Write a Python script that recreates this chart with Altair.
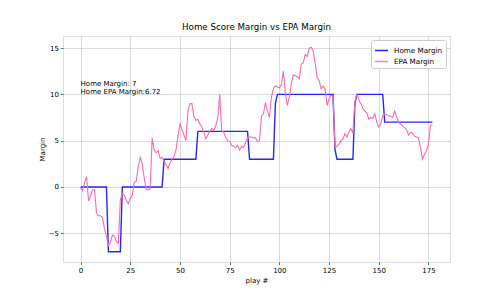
import altair as alt
import pandas as pd

# Home score margin (corner points of the step line)
home_play = [0, 13, 14, 20, 21, 41, 42, 58, 59, 84, 85, 97, 98, 99, 127, 128, 129, 137, 138, 139, 152, 153, 177]
home_margin = [0, 0, -7, -7, 0, 0, 3, 3, 6, 6, 3, 3, 9, 10, 10, 4, 3, 3, 9, 10, 10, 7, 7]

# EPA margin
epa_play = list(range(0, 178))
epa_margin = [
    -0.1, -0.4, 0.5, 1.1, -1.5, -1.0, -0.3, -0.3, -2.8, -3.1,
    -3.1, -3.3, -4.5, -5.3, -6.3, -6.0, -5.2, -5.3, -5.9, -6.1,
    -1.4, -0.7, -0.9, -1.4, -1.8, -1.2, -0.9, 0.5, 0.6, 2.2,
    3.2, 2.5, 1.0, -0.3, -0.3, -0.2, 5.3, 4.0, 3.7, 3.9,
    3.1, 3.2, 2.8, 2.4, 2.0, 2.6, 3.0, 3.3, 4.0, 5.5,
    6.8, 6.2, 5.6, 5.0, 8.2, 9.0, 9.0, 7.6, 7.2, 7.3,
    6.8, 6.5, 5.9, 5.2, 5.6, 6.0, 6.3, 6.1, 6.6, 7.5,
    10.0, 6.1, 5.9, 5.4, 5.0, 4.9, 4.5, 4.4, 4.25, 4.5,
    4.0, 4.4, 4.25, 4.8, 5.3, 5.4, 5.4, 5.3, 5.3, 4.9,
    5.0, 7.7, 7.9, 9.1, 8.25, 7.5, 9.7, 10.6, 10.9, 10.8,
    10.7, 11.0, 12.5, 10.2, 8.8, 9.7, 11.1, 12.1, 12.0, 11.9,
    11.65, 13.25, 13.4, 14.3, 14.1, 15.0, 15.1, 14.7, 13.4, 11.8,
    11.5, 10.6, 10.9, 10.6, 8.8, 9.5, 9.9, 9.8, 4.3, 4.4,
    4.6, 5.0, 5.2, 5.75, 5.4, 5.9, 6.3, 5.8, 9.2, 10.0,
    9.4, 9.0, 8.5, 8.2, 8.0, 7.3, 7.5, 7.4, 7.9, 7.0,
    6.5, 6.8, 7.7, 7.9, 7.8, 7.7, 7.6, 7.5, 8.2, 7.6,
    7.0, 6.8, 6.6, 6.4, 6.2, 5.6, 5.9, 5.8, 5.5, 5.4,
    5.3, 4.3, 3.0, 3.5, 3.9, 4.6, 6.65, 6.72,
]

series_names = ["Home Margin", "EPA Margin"]
series_colors = ["#0000ff", "#ff69b4"]
x_ticks = [0, 25, 50, 75, 100, 125, 150, 175]
y_ticks = [-5, 0, 5, 10, 15]
annotation = "Home Margin: " + str(home_margin[-1]) + "\nHome EPA Margin:" + str(epa_margin[-1])

home_df = pd.DataFrame({"play": home_play, "margin": home_margin, "series": series_names[0]})
epa_df = pd.DataFrame({"play": epa_play, "margin": epa_margin, "series": series_names[1]})

FONT = "DejaVu Sans"
FS = 7

color = alt.Color(
    "series:N",
    scale=alt.Scale(domain=series_names, range=series_colors),
    legend=alt.Legend(
        title=None,
        orient="top-right",
        offset=4,
        symbolType="stroke",
        symbolSize=169,
        symbolStrokeWidth=1.5,
        labelFont=FONT,
        labelFontSize=7.2,
        labelColor="#000000",
        labelOffset=5,
        padding=3,
        rowPadding=-2,
        fillColor="white",
        strokeColor="#cccccc",
        cornerRadius=2,
    ),
)

axis_style = dict(
    grid=True,
    gridColor="#b0b0b0",
    gridOpacity=0.6,
    gridWidth=0.8,
    domain=False,
    tickColor="#000000",
    tickSize=2.5,
    tickWidth=0.6,
    labelFont=FONT,
    labelFontSize=FS,
    labelColor="#000000",
    labelPadding=2,
    titleFont=FONT,
    titleFontSize=FS,
    titleFontWeight="normal",
    titleColor="#000000",
    titlePadding=3,
    format="d",
)

x_enc = alt.X(
    "play:Q",
    title="play #",
    scale=alt.Scale(domain=[-8.85, 185.85], nice=False, zero=False),
    axis=alt.Axis(values=x_ticks, **axis_style),
)
y_enc = alt.Y(
    "margin:Q",
    title="Margin",
    scale=alt.Scale(domain=[-8.1, 16.3], nice=False, zero=False),
    axis=alt.Axis(values=y_ticks, **axis_style),
)

home_line = alt.Chart(home_df).mark_line(strokeWidth=1.4, opacity=0.85).encode(
    x=x_enc, y=y_enc, color=color, order="play:Q"
)
epa_line = alt.Chart(epa_df).mark_line(strokeWidth=1.1).encode(
    x=x_enc, y=y_enc, color=color, order="play:Q"
)

text = alt.Chart().mark_text(
    align="left",
    baseline="alphabetic",
    lineBreak="\n",
    lineHeight=8,
    dy=-8,
    font=FONT,
    fontSize=FS,
    color="#000000",
).encode(
    x=alt.datum(0),
    y=alt.datum(10),
    text=alt.value(annotation),
)

chart = alt.layer(home_line, epa_line, text).properties(
    width=387,
    height=226,
    title=alt.TitleParams(
        "Home Score Margin vs EPA Margin",
        font=FONT,
        fontSize=8.7,
        fontWeight="normal",
        color="#000000",
        anchor="middle",
        offset=4,
    ),
    autosize=alt.AutoSizeParams(type="none"),
    padding={"left": 63, "top": 36, "right": 50, "bottom": 38},
).configure_view(
    stroke="#333333", strokeWidth=1
).configure(background="white")

chart.save("out.html", embed_options={"renderer": "svg", "actions": False})
